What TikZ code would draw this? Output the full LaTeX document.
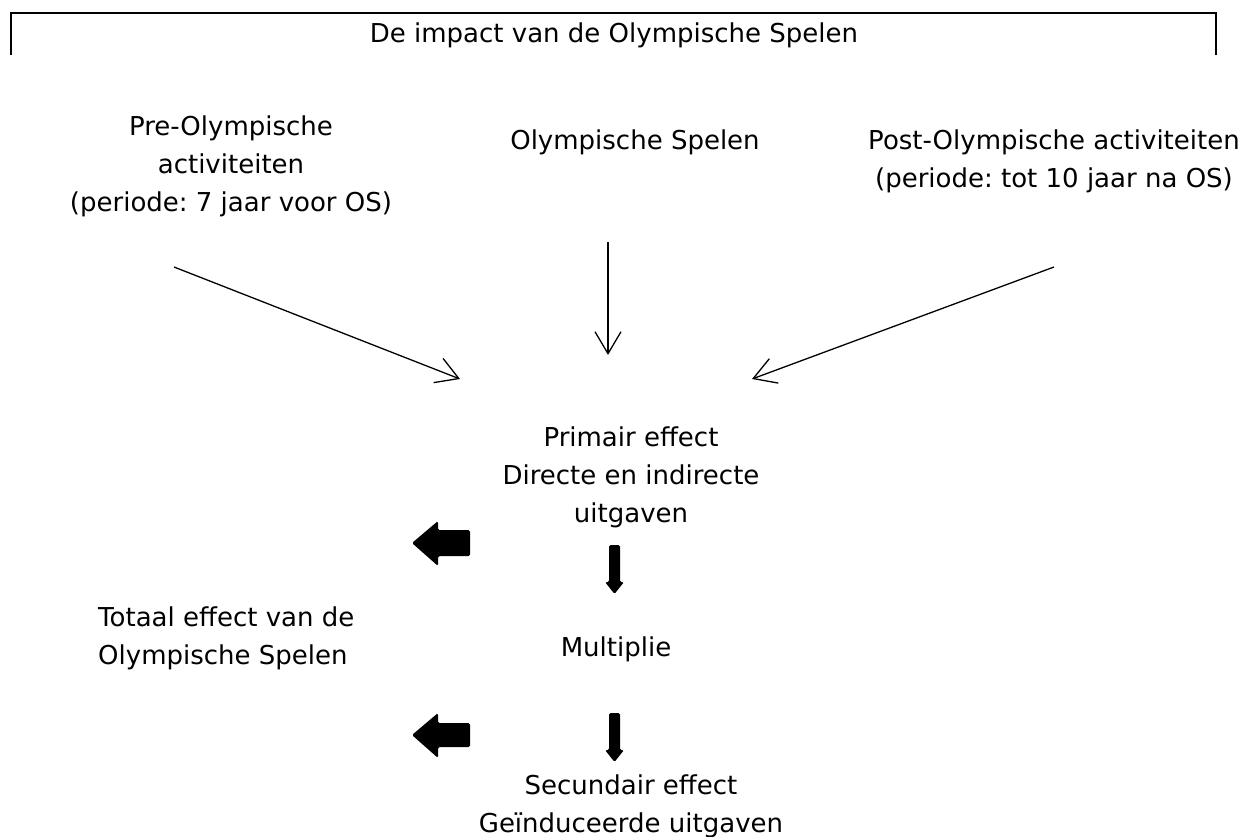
\documentclass[tikz,border=0pt]{standalone}
\usepackage{fontspec}
\setmainfont{DejaVu Sans}
\usetikzlibrary{arrows.meta}
\frenchspacing

\tikzset{
  txt/.style={align=center, inner sep=0pt, anchor=base, font=\fontsize{26}{38}\selectfont},
  thinarrow/.style={-{Straight Barb[length=22pt,width=26pt]}, line width=1.3pt},
  blockarrow/.style={fill=black, rounded corners=1.5pt},
}

\begin{document}
\begin{tikzpicture}[x=1pt, y=-1pt]
\useasboundingbox (0,0) rectangle (1251,836);

% Title box, open at the bottom
\draw[line width=2pt] (11,55) -- (11,13) -- (1216,13) -- (1216,55);
\node[txt] (title) at (614,42) {De impact van de Olympische Spelen};

% The three periods (base = baseline of the last line)
\node[txt] (pre) at (231,211) {Pre-Olympische\\activiteiten\\(periode: 7 jaar voor OS)};
\node[txt] (os) at (635,149) {Olympische Spelen};
\node[txt] (post) at (1054,187) {Post-Olympische activiteiten\\(periode: tot 10 jaar na OS)};

% Effects
\node[txt] (primair) at (631,522) {Primair effect\\Directe en indirecte\\uitgaven};
\node[txt] (multi) at (616,656) {Multiplie};
\node[txt] (secundair) at (631,832) {Secundair effect\\Geïnduceerde uitgaven};
\node[txt, align=left, anchor=base west] (totaal) at (98,664) {Totaal effect van de\\Olympische Spelen};

% Thin arrows towards the primary effect
\coordinate (prefrom) at (174,267);
\coordinate (preto) at (460,379);
\coordinate (osfrom) at (608,242);
\coordinate (osto) at (608,355);
\coordinate (postfrom) at (1054,267);
\coordinate (postto) at (752,379);
\draw[thinarrow] (prefrom) -- (preto);
\draw[thinarrow] (osfrom) -- (osto);
\draw[thinarrow] (postfrom) -- (postto);

% Block arrows
\fill[blockarrow] (412,543) -- (438,521) -- (438,530) -- (470,530) -- (470,556) -- (438,556) -- (438,566) -- cycle;
\fill[blockarrow] (412,735) -- (438,713) -- (438,723) -- (470,723) -- (470,747) -- (438,747) -- (438,758) -- cycle;
\fill[blockarrow] (609,545) -- (620,545) -- (620,582) -- (624,582) -- (614.5,594) -- (605,582) -- (609,582) -- cycle;
\fill[blockarrow] (609,713) -- (620,713) -- (620,750) -- (624,750) -- (614.5,762) -- (605,750) -- (609,750) -- cycle;
\end{tikzpicture}
\end{document}
